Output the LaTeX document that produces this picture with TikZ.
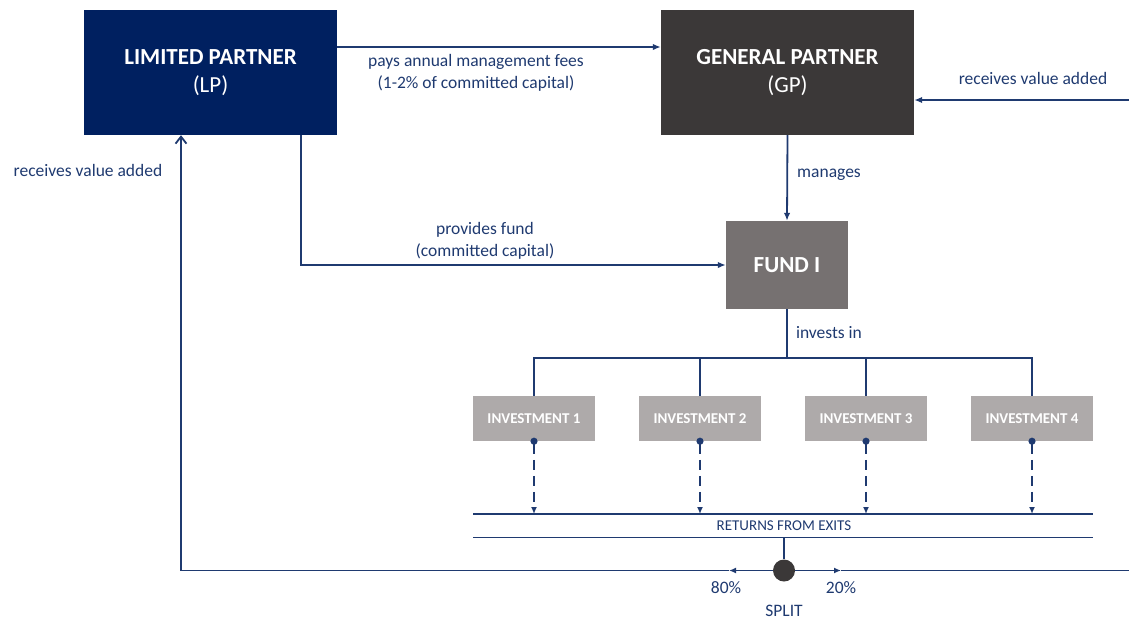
\documentclass[tikz,border=0pt]{standalone}
\usepackage{fontspec}
\setmainfont{Carlito}
\usetikzlibrary{arrows.meta}
\definecolor{lpblue}{HTML}{002060}
\definecolor{gpgrey}{HTML}{3B3838}
\definecolor{fundgrey}{HTML}{767171}
\definecolor{invgrey}{HTML}{AEAAAA}
\definecolor{linkblue}{HTML}{1F3A70}
\begin{document}
\begin{tikzpicture}
  [x=1pt,y=-1pt,
   bigbox/.style={rectangle,inner sep=0pt,minimum width=253pt,minimum height=125pt,
     text=white,align=center,font=\fontsize{23}{28}\selectfont},
   fundbox/.style={rectangle,inner sep=0pt,minimum width=122pt,minimum height=88pt,
     fill=fundgrey,text=white,font=\fontsize{23}{28}\selectfont\bfseries},
   invbox/.style={rectangle,inner sep=0pt,minimum width=122pt,minimum height=45pt,
     fill=invgrey,text=white,font=\fontsize{15}{18}\selectfont\bfseries},
   lbl/.style={text=linkblue,align=center,inner sep=0pt,font=\fontsize{17.5}{21.5}\selectfont},
   flow/.style={draw=linkblue,line width=1.8pt,-{Latex[length=8pt,width=6.5pt]}},
   wire/.style={draw=linkblue,line width=1.8pt},
   ret/.style={draw=linkblue,line width=1.8pt,dash pattern=on 10pt off 6pt,
     {Circle[length=7pt,sep=-3.5pt]}-{Latex[length=7pt,width=6pt]}}]
\useasboundingbox (0,0) rectangle (1129,619);

\node (lp)[bigbox,fill=lpblue] at (210.5,72.5) {\textbf{LIMITED PARTNER}\\(LP)};
\node (gp)[bigbox,fill=gpgrey] at (787.5,72.5) {\textbf{GENERAL PARTNER}\\(GP)};
\node (fund)[fundbox] at (787,265) {FUND I};

\node (inv1)[invbox] at (534,418.5) {INVESTMENT 1};
\node (inv2)[invbox] at (700,418.5) {INVESTMENT 2};
\node (inv3)[invbox] at (866,418.5) {INVESTMENT 3};
\node (inv4)[invbox] at (1032,418.5) {INVESTMENT 4};

\node (split)[circle,fill=gpgrey,minimum size=22pt,inner sep=0pt] at (784,570.5) {};

% helper points
\coordinate (lpdrop) at (301,135);
\coordinate (bus) at (787,358);
\coordinate (retA) at (473,514);
\coordinate (retB) at (1093,514);
\coordinate (retC) at (473,537.5);
\coordinate (retD) at (1093,537.5);
\coordinate (left80) at (729,570.5);
\coordinate (right20) at (841,570.5);
\coordinate (loopL) at (181,570.5);
\coordinate (loopR) at (1129,570.5);
\coordinate (gpin) at (1129,100);

% labels
\node (fees)[lbl] at (476,73) {pays annual management fees\\(1-2\% of committed capital)};
\node (gpval)[lbl] at (1033,78) {receives value added};
\node (lpval)[lbl] at (88,170) {receives value added};
\node (mng)[lbl] at (829,175) {manages};
\node (prov)[lbl] at (485,241) {provides fund\\(committed capital)};
\node (inv)[lbl] at (829,333) {invests in};
\node (exits)[lbl,font=\fontsize{15}{18}\selectfont] at (784,526) {RETURNS FROM EXITS};
\node (p80)[lbl] at (726,588) {80\%};
\node (p20)[lbl] at (841,588) {20\%};
\node (spl)[lbl] at (784,611) {SPLIT};

% connectors
\path[flow] (lp.east |- 0,47) -- (gp.west |- 0,47);
\path[flow] (gpin) -- (gp.east |- gpin);
\path[flow] (gp.south) -- (fund.north);
\path[flow] (lpdrop) |- (fund.west);
\path[wire] (fund.south) -- (bus);
\path[wire] (inv1.north) |- (bus) -| (inv4.north);
\path[wire] (inv2.north) -- (inv2.north |- bus);
\path[wire] (inv3.north) -- (inv3.north |- bus);

\foreach \i in {1,...,4}
  \path[ret] (inv\i.south) -- (inv\i.south |- retA);

\path[wire] (retA) -- (retB);
\path[wire] (retC) -- (retD);
\path[wire] (split.center |- retC) -- (split);

\path[flow,-{Latex[length=7pt,width=6pt]}] (split) -- (left80);
\path[wire] (left80) -- (loopL);
\path[wire,-{Straight Barb[length=7pt,width=11pt]}] (loopL) -- (loopL |- lp.south);
\path[flow,-{Latex[length=7pt,width=6pt]}] (split) -- (right20);
\path[wire] (right20) -- (loopR);

\end{tikzpicture}
\end{document}
